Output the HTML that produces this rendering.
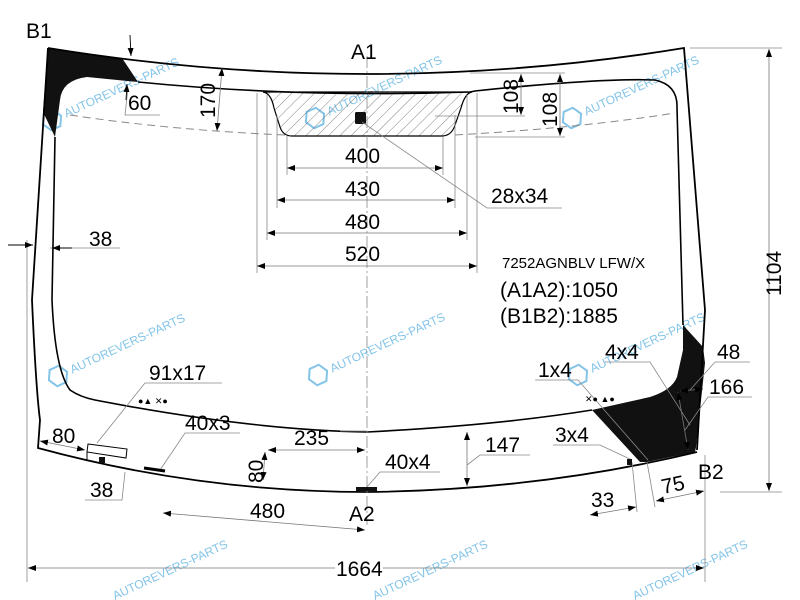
<!DOCTYPE html>
<html><head><meta charset="utf-8"><style>
html,body{margin:0;padding:0;background:#fff;}
svg{display:block;font-family:"Liberation Sans",Arial,sans-serif;}
</style></head><body>
<svg width="800" height="600" viewBox="0 0 800 600" xmlns="http://www.w3.org/2000/svg">
<defs>
<pattern id="h" width="8" height="8" patternUnits="userSpaceOnUse" patternTransform="rotate(45)">
<line x1="0" y1="0" x2="0" y2="8" stroke="#666" stroke-width="0.8"/></pattern>
<marker id="a" markerWidth="8" markerHeight="6" refX="8" refY="3" orient="auto-start-reverse" markerUnits="userSpaceOnUse"><path d="M0,0 L8,3 L0,6z" fill="#000"/></marker>
</defs>
<rect width="800" height="600" fill="#fff"/>

<g fill="#5ab0e0" font-size="12" opacity="0.75">
<g transform="translate(52,120) rotate(-25)"><polygon points="-10,0 -5,-9 5,-9 10,0 5,9 -5,9" fill="none" stroke="#5ab0e0" stroke-width="2"/><text x="14" y="4">AUTOREVERS-PARTS</text></g>
<g transform="translate(315,118) rotate(-25)"><polygon points="-10,0 -5,-9 5,-9 10,0 5,9 -5,9" fill="none" stroke="#5ab0e0" stroke-width="2"/><text x="14" y="4">AUTOREVERS-PARTS</text></g>
<g transform="translate(572,118) rotate(-25)"><polygon points="-10,0 -5,-9 5,-9 10,0 5,9 -5,9" fill="none" stroke="#5ab0e0" stroke-width="2"/><text x="14" y="4">AUTOREVERS-PARTS</text></g>
<g transform="translate(58,376) rotate(-25)"><polygon points="-10,0 -5,-9 5,-9 10,0 5,9 -5,9" fill="none" stroke="#5ab0e0" stroke-width="2"/><text x="14" y="4">AUTOREVERS-PARTS</text></g>
<g transform="translate(318,375) rotate(-25)"><polygon points="-10,0 -5,-9 5,-9 10,0 5,9 -5,9" fill="none" stroke="#5ab0e0" stroke-width="2"/><text x="14" y="4">AUTOREVERS-PARTS</text></g>
<g transform="translate(578,375) rotate(-25)"><polygon points="-10,0 -5,-9 5,-9 10,0 5,9 -5,9" fill="none" stroke="#5ab0e0" stroke-width="2"/><text x="14" y="4">AUTOREVERS-PARTS</text></g>
<text transform="translate(115,600) rotate(-25)">AUTOREVERS-PARTS</text>
<text transform="translate(375,600) rotate(-25)">AUTOREVERS-PARTS</text>
<text transform="translate(635,600) rotate(-25)">AUTOREVERS-PARTS</text>
</g>

<path d="M48,48 L122,58 L138,82 L87,77 Q62,80 60,100 L55,137 L43,112 Z" fill="#111"/>
<path d="M683,325 L703,347 L705,363 L696,447 L695,452 L647,462 L640,462 L592,410 L650,397 Q672,390 677,377 L683,350 Z" fill="#111"/>

<path d="M263,92 Q271,93 274,108 L280,127 Q283,136 292,136 L443,136 Q452,135 455,125 L461,108 Q465,93 472,92 Z" fill="url(#h)" stroke="#000" stroke-width="1.2"/>
<rect x="355" y="112" width="11" height="12" rx="1.5" fill="#111"/>

<path d="M48,48 Q367,100 684,48 L705,310 L697,450 M48,48 L32,300 Q36,390 40,420 L38,448 Q200,492 367,492 Q540,490 697,452" fill="none" stroke="#000" stroke-width="1.8"/>
<path d="M138,82 Q300,98 470,92 L475,91 Q600,78 655,80 Q678,85 677,108 L683,325 M55,137 L52,300 Q55,370 70,390 Q80,397 95,400 Q250,430 367,432 Q500,425 592,410" fill="none" stroke="#000" stroke-width="1.6"/>
<path d="M70,115 Q170,130 285,135 M455,135 Q580,128 675,113" fill="none" stroke="#888" stroke-width="1" stroke-dasharray="8,5"/>
<line x1="367" y1="56" x2="367" y2="525" stroke="#888" stroke-width="0.8" stroke-dasharray="12,3,2,3"/>

<g stroke="#888" stroke-width="0.8" fill="none">
<line x1="287" y1="136" x2="287" y2="175"/><line x1="443" y1="136" x2="443" y2="175"/>
<line x1="277" y1="115" x2="277" y2="208"/><line x1="455" y1="115" x2="455" y2="208"/>
<line x1="267" y1="95" x2="267" y2="240"/><line x1="467" y1="95" x2="467" y2="240"/>
<line x1="257" y1="93" x2="257" y2="273"/><line x1="477" y1="93" x2="477" y2="273"/>
<line x1="470" y1="73" x2="565" y2="73"/><line x1="435" y1="116" x2="525" y2="116"/><line x1="475" y1="137" x2="565" y2="137"/>
<line x1="690" y1="48" x2="782" y2="48"/><line x1="720" y1="492" x2="782" y2="492"/>
<line x1="27" y1="240" x2="27" y2="582"/><line x1="705" y1="455" x2="705" y2="582"/>
<polyline points="362,122 487,208 562,208"/>
<polyline points="128,88 125,115 160,115"/>
<line x1="50" y1="248" x2="120" y2="248"/>
<polyline points="97,443 145,383 222,383"/>
<polyline points="160,470 185,433 240,433"/>
<polyline points="85,500 122,500 125,472"/>
<polyline points="367,487 380,472 440,472"/>
<polyline points="467,465 480,455 530,455"/>
<polyline points="535,380 578,380 648,460"/>
<polyline points="605,362 650,362 690,425"/>
<polyline points="690,390 715,362 750,362"/>
<polyline points="685,430 708,397 752,397"/>
<polyline points="553,445 600,445 632,460"/>
<line x1="632" y1="462" x2="637" y2="512"/><line x1="647" y1="462" x2="655" y2="507"/>
<line x1="340" y1="431" x2="367" y2="431"/>
</g>

<g stroke="#777" stroke-width="0.8" fill="none" marker-start="url(#a)" marker-end="url(#a)">
<line x1="287" y1="168" x2="443" y2="168"/>
<line x1="277" y1="200" x2="455" y2="200"/>
<line x1="267" y1="233" x2="467" y2="233"/>
<line x1="257" y1="266" x2="477" y2="266"/>
<line x1="521" y1="74" x2="521" y2="115"/>
<line x1="560" y1="74" x2="560" y2="136"/>
<line x1="222" y1="68" x2="217" y2="131"/>
<line x1="769" y1="49" x2="769" y2="491"/>
<line x1="28" y1="568" x2="704" y2="568"/>
<line x1="163" y1="513" x2="365" y2="530"/>
<line x1="268" y1="450" x2="365" y2="450"/>
<line x1="265" y1="452" x2="263" y2="480"/>
<line x1="467" y1="432" x2="467" y2="486"/>
<line x1="40" y1="441" x2="85" y2="450"/>
<line x1="678" y1="392" x2="688" y2="450"/>
<line x1="680" y1="391" x2="703" y2="389"/>
<line x1="590" y1="515" x2="636" y2="507"/>
<line x1="656" y1="501" x2="704" y2="491"/>
</g>
<g stroke="#000" stroke-width="0.9" marker-end="url(#a)">
<line x1="130" y1="35" x2="131" y2="56"/>
<line x1="8" y1="245" x2="33" y2="245"/>
<line x1="72" y1="248" x2="52" y2="248"/>
<line x1="126" y1="100" x2="127" y2="84"/>
</g>

<path d="M88,444 L127,449 L126,458 L87,452 Z" fill="#fff" stroke="#000" stroke-width="1"/>
<rect x="99" y="457" width="6" height="6" fill="#111"/>
<line x1="87" y1="452" x2="87" y2="460" stroke="#000"/>
<path d="M144,468 L165,471" stroke="#000" stroke-width="3"/>
<rect x="356" y="487" width="21" height="4" fill="#111"/>
<rect x="627" y="459" width="5" height="6" fill="#111"/>
<text x="138" y="404" font-size="9">●▲ ✕●</text>
<text x="585" y="402" font-size="9">✕● ▲●</text>

<g font-size="21" fill="#000">
<text x="26" y="38">B1</text>
<text x="351" y="59">A1</text>
<text x="128" y="110">60</text>
<text transform="translate(215,118) rotate(-90)">170</text>
<text transform="translate(518,114) rotate(-90)">108</text>
<text transform="translate(557,127) rotate(-90)">108</text>
<text x="345" y="163">400</text>
<text x="345" y="196">430</text>
<text x="345" y="229">480</text>
<text x="345" y="261">520</text>
<text x="491" y="203">28x34</text>
<text x="89" y="246">38</text>
<text transform="translate(781,296) rotate(-90)">1104</text>
<text x="500" y="297">(A1A2):1050</text>
<text x="500" y="323">(B1B2):1885</text>
<text x="149" y="380">91x17</text>
<text x="52" y="443">80</text>
<text x="185" y="430">40x3</text>
<text x="294" y="445">235</text>
<text transform="translate(263,483) rotate(-90)">80</text>
<text x="385" y="469">40x4</text>
<text x="485" y="452">147</text>
<text x="90" y="497">38</text>
<text x="250" y="518">480</text>
<text x="349" y="521">A2</text>
<text x="538" y="377">1x4</text>
<text x="605" y="359">4x4</text>
<text x="717" y="359">48</text>
<text x="709" y="394">166</text>
<text x="555" y="442">3x4</text>
<text x="591" y="507">33</text>
<text transform="translate(663,494) rotate(-12)">75</text>
<text x="698" y="479">B2</text>
<rect x="335" y="556" width="48" height="22" fill="#fff"/>
<text x="336" y="576">1664</text>
</g>
<text x="502" y="268" font-size="15">7252AGNBLV LFW/X</text>
</svg>
</body></html>
